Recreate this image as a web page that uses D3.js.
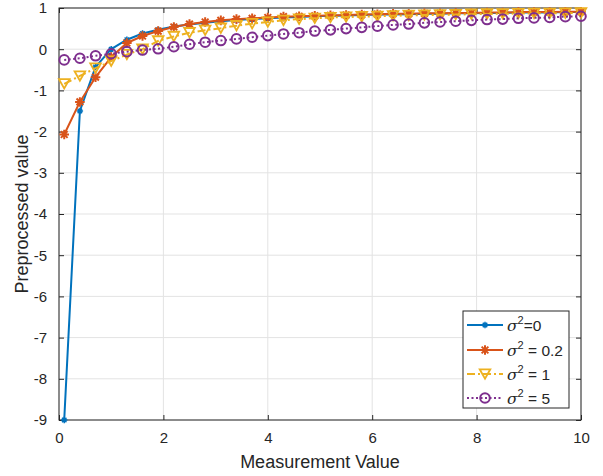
<!DOCTYPE html>
<html><head><meta charset="utf-8">
<script src="https://cdn.jsdelivr.net/npm/d3@7"></script>
<style>
html,body{margin:0;padding:0;background:#fff;}
text{font-family:"Liberation Sans",Arial,Helvetica,sans-serif;fill:#262626;}
</style></head>
<body><svg id="chart" width="603" height="476"></svg>
<script>
const xValues = [0.1,0.4,0.7,1.0,1.3,1.6,1.9,2.2,2.5,2.8,3.1,3.4,3.7,4.0,4.3,4.6,4.9,5.2,5.5,5.8,6.1,6.4,6.7,7.0,7.3,7.6,7.9,8.2,8.5,8.8,9.1,9.4,9.7,10.0];
const sigma0 = [-9,-1.5,-0.43,0,0.23,0.38,0.47,0.55,0.6,0.64,0.68,0.71,0.73,0.75,0.77,0.78,0.8,0.81,0.82,0.83,0.84,0.84,0.85,0.86,0.86,0.87,0.87,0.88,0.88,0.89,0.89,0.89,0.9,0.9];
const sigma02 = [-2.07,-1.28,-0.68,-0.19,0.15,0.32,0.44,0.54,0.61,0.66,0.70,0.73,0.75,0.77,0.79,0.80,0.81,0.82,0.83,0.84,0.85,0.86,0.86,0.87,0.87,0.88,0.88,0.89,0.89,0.90,0.90,0.90,0.91,0.91];
const sigma1 = [-0.84,-0.65,-0.46,-0.29,-0.13,0.0,0.20,0.31,0.40,0.46,0.51,0.57,0.62,0.66,0.70,0.73,0.75,0.77,0.78,0.79,0.80,0.81,0.82,0.83,0.835,0.84,0.85,0.855,0.86,0.865,0.87,0.87,0.875,0.88];
const sigma5 = [-0.26,-0.22,-0.16,-0.11,-0.06,-0.02,0.01,0.06,0.12,0.17,0.21,0.25,0.29,0.33,0.37,0.40,0.44,0.47,0.50,0.53,0.56,0.59,0.61,0.64,0.66,0.68,0.70,0.72,0.73,0.75,0.76,0.77,0.79,0.80];
const xTicks = [0,2,4,6,8,10];
const yTicks = [-9,-8,-7,-6,-5,-4,-3,-2,-1,0,1];
const seriesLabels = ["=0"," = 0.2"," = 1"," = 5"];
const xLabel = "Measurement Value";
const yLabel = "Preprocessed value";

const series = [
  {vals: sigma0, color:"#0072BD", dash:null, marker:"star", lw:2},
  {vals: sigma02, color:"#D95319", dash:null, marker:"asterisk", lw:2},
  {vals: sigma1, color:"#EDB120", dash:"8,3,2,3", marker:"tri", lw:2},
  {vals: sigma5, color:"#7E2F8E", dash:"2,2.5", marker:"circle", lw:2}
];

const svg = d3.select("#chart");
const L=59, R=581, T=8, B=420;
const x = d3.scaleLinear().domain([0,10]).range([L,R]);
const y = d3.scaleLinear().domain([-9,1]).range([B,T]);
const axisCol = "#262626";

// grid
const g = svg.append("g");
g.selectAll(".gx").data(xTicks).enter().append("line")
  .attr("x1",d=>x(d)).attr("x2",d=>x(d)).attr("y1",T).attr("y2",B)
  .attr("stroke","#e3e3e3").attr("stroke-width",1);
g.selectAll(".gy").data(yTicks).enter().append("line")
  .attr("x1",L).attr("x2",R).attr("y1",d=>y(d)).attr("y2",d=>y(d))
  .attr("stroke","#e3e3e3").attr("stroke-width",1);

// axes with inward ticks
const tl = 5;
const fs = 15;
const xb = svg.append("g").attr("transform",`translate(0,${B})`)
  .call(d3.axisBottom(x).tickValues(xTicks).tickSizeInner(-tl).tickSizeOuter(0).tickPadding(12));
const xt = svg.append("g").attr("transform",`translate(0,${T})`)
  .call(d3.axisTop(x).tickValues(xTicks).tickSizeInner(-tl).tickSizeOuter(0).tickFormat(""));
const yl = svg.append("g").attr("transform",`translate(${L},0)`)
  .call(d3.axisLeft(y).tickValues(yTicks).tickSizeInner(-tl).tickSizeOuter(0).tickPadding(12));
const yr = svg.append("g").attr("transform",`translate(${R},0)`)
  .call(d3.axisRight(y).tickValues(yTicks).tickSizeInner(-tl).tickSizeOuter(0).tickFormat(""));
[xb,xt,yl,yr].forEach(a=>{
  a.select(".domain").remove();
  a.selectAll("line").attr("stroke",axisCol).attr("stroke-width",1);
  a.selectAll("text").attr("font-size",fs).attr("fill",axisCol)
   .style("font-family",'"Liberation Sans",Arial,sans-serif');
});
xb.selectAll("text").attr("dy","0.71em");
yl.selectAll("text").text(d=>d<0?"-"+Math.abs(d):d);

// box
svg.append("rect").attr("x",L).attr("y",T).attr("width",R-L).attr("height",B-T)
  .attr("fill","none").attr("stroke",axisCol).attr("stroke-width",1);

// marker drawing
function drawMarker(sel, type, color, cx, cy){
  if(type==="star"){
    const r=3.2;
    const p=`M${cx-r},${cy}L${cx+r},${cy}M${cx},${cy-r}L${cx},${cy+r}M${cx-r*0.7},${cy-r*0.7}L${cx+r*0.7},${cy+r*0.7}M${cx-r*0.7},${cy+r*0.7}L${cx+r*0.7},${cy-r*0.7}`;
    sel.append("path").attr("d",p).attr("stroke",color).attr("stroke-width",1.5).attr("fill","none");
  } else if(type==="asterisk"){
    const r=4.8;
    const p=`M${cx-r},${cy}L${cx+r},${cy}M${cx},${cy-r}L${cx},${cy+r}M${cx-r*0.7},${cy-r*0.7}L${cx+r*0.7},${cy+r*0.7}M${cx-r*0.7},${cy+r*0.7}L${cx+r*0.7},${cy-r*0.7}`;
    sel.append("path").attr("d",p).attr("stroke",color).attr("stroke-width",2).attr("fill","none");
  } else if(type==="tri"){
    const w=5.3, h=4.7;
    sel.append("path").attr("d",`M${cx-w},${cy-h}L${cx+w},${cy-h}L${cx},${cy+h}Z`)
      .attr("stroke",color).attr("stroke-width",1.8).attr("fill","none").attr("stroke-linejoin","miter");
  } else if(type==="circle"){
    sel.append("circle").attr("cx",cx).attr("cy",cy).attr("r",4.8)
      .attr("stroke",color).attr("stroke-width",2).attr("fill","none");
  }
}

const line = d3.line().x((d,i)=>x(xValues[i])).y(d=>y(d));
series.forEach(s=>{
  const sg = svg.append("g");
  sg.append("path").datum(s.vals).attr("d",line).attr("fill","none")
    .attr("stroke",s.color).attr("stroke-width",s.lw)
    .attr("stroke-dasharray",s.dash).attr("stroke-linejoin","round");
  s.vals.forEach((v,i)=>drawMarker(sg, s.marker, s.color, x(xValues[i]), y(v)));
});

// axis labels
svg.append("text").attr("x",(L+R)/2).attr("y",468).attr("text-anchor","middle")
  .attr("font-size",18).text(xLabel);
svg.append("text").attr("transform",`translate(28,${(T+B)/2}) rotate(-90)`)
  .attr("text-anchor","middle").attr("font-size",18).text(yLabel);

// legend
const lg = svg.append("g");
lg.append("rect").attr("x",463).attr("y",311).attr("width",106).attr("height",97)
  .attr("fill","#fff").attr("stroke",axisCol).attr("stroke-width",1);
const ly = [325,350,374,398];
series.forEach((s,i)=>{
  const yy = ly[i];
  lg.append("line").attr("x1",467).attr("x2",503).attr("y1",yy).attr("y2",yy)
    .attr("stroke",s.color).attr("stroke-width",s.lw).attr("stroke-dasharray",s.dash);
  drawMarker(lg, s.marker, s.color, 485, yy);
  const t = lg.append("text").attr("x",507).attr("y",yy+6).attr("font-size",15.5);
  t.append("tspan").attr("font-style","italic").style("font-family",'"DejaVu Serif","Liberation Serif",serif').text("σ");
  t.append("tspan").attr("dy",-7).attr("font-size",11).text("2");
  t.append("tspan").attr("dy",7).text(seriesLabels[i]);
});
</script></body></html>
